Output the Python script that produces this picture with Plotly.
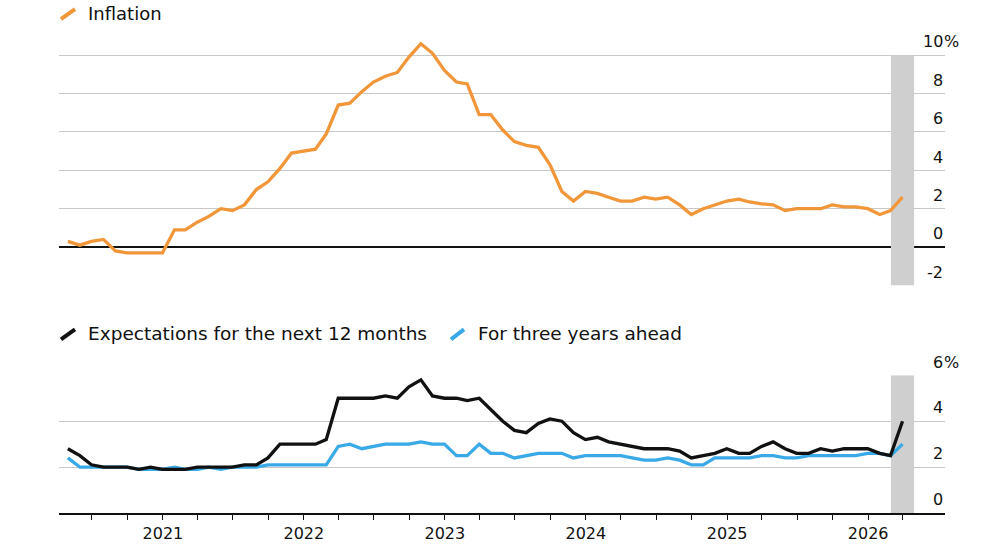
import pandas as pd
import plotly.graph_objects as go

# ---------------- data ----------------
months = pd.date_range("2020-04-30", periods=72, freq=pd.offsets.MonthEnd())

inflation = [
    0.3, 0.1, 0.3, 0.4, -0.2, -0.3, -0.3, -0.3, -0.3,
    0.9, 0.9, 1.3, 1.6, 2.0, 1.9, 2.2, 3.0, 3.4, 4.1, 4.9, 5.0,
    5.1, 5.9, 7.4, 7.5, 8.1, 8.6, 8.9, 9.1, 9.9, 10.6, 10.1, 9.2,
    8.6, 8.5, 6.9, 6.9, 6.1, 5.5, 5.3, 5.2, 4.3, 2.9, 2.4, 2.9,
    2.8, 2.6, 2.4, 2.4, 2.6, 2.5, 2.6, 2.2, 1.7, 2.0, 2.2, 2.4,
    2.5, 2.35, 2.25, 2.2, 1.9, 2.0, 2.0, 2.0, 2.2, 2.1, 2.1, 2.0,
    1.7, 1.9, 2.6,
]

expect_12m = [
    2.8, 2.5, 2.1, 2.0, 2.0, 2.0, 1.9, 2.0, 1.9,
    1.9, 1.9, 2.0, 2.0, 2.0, 2.0, 2.1, 2.1, 2.4, 3.0, 3.0, 3.0,
    3.0, 3.2, 5.0, 5.0, 5.0, 5.0, 5.1, 5.0, 5.5, 5.8, 5.1, 5.0,
    5.0, 4.9, 5.0, 4.5, 4.0, 3.6, 3.5, 3.9, 4.1, 4.0, 3.5, 3.2,
    3.3, 3.1, 3.0, 2.9, 2.8, 2.8, 2.8, 2.7, 2.4, 2.5, 2.6, 2.8,
    2.6, 2.6, 2.9, 3.1, 2.8, 2.6, 2.6, 2.8, 2.7, 2.8, 2.8, 2.8,
    2.6, 2.5, 4.0,
]

expect_3y = [
    2.4, 2.0, 2.0, 2.0, 2.0, 2.0, 1.9, 1.9, 1.9,
    2.0, 1.9, 1.9, 2.0, 1.9, 2.0, 2.0, 2.0, 2.1, 2.1, 2.1, 2.1,
    2.1, 2.1, 2.9, 3.0, 2.8, 2.9, 3.0, 3.0, 3.0, 3.1, 3.0, 3.0,
    2.5, 2.5, 3.0, 2.6, 2.6, 2.4, 2.5, 2.6, 2.6, 2.6, 2.4, 2.5,
    2.5, 2.5, 2.5, 2.4, 2.3, 2.3, 2.4, 2.3, 2.1, 2.1, 2.4, 2.4,
    2.4, 2.4, 2.5, 2.5, 2.4, 2.4, 2.5, 2.5, 2.5, 2.5, 2.5, 2.6,
    2.6, 2.5, 3.0,
]

top_ticks = [-2, 0, 2, 4, 6, 8, 10]
bottom_ticks = [0, 2, 4, 6]
x_tick_dates = pd.date_range("2020-07-01", "2026-04-01", freq="QS")
x_tick_text = [str(d.year) if d.month == 1 else "" for d in x_tick_dates]
band_start, band_end = "2026-03-01", "2026-04-30"
x_range = ["2020-04-07", "2026-07-19"]

# ---------------- style ----------------
ORANGE = "#F2963A"
BLUE = "#3AA9E8"
BLACK = "#111111"
GRID = "#c8c8c8"
BAND = "#cfcfcf"
FONT = "DejaVu Sans"
LW = 3.3

W = 1000
K = 555 / 545                 # vertical compensation for the viewport
H = round(545 * K)


def Y(p):
    return p * K


PLOT_L, PLOT_R = 59, 945
PLOT_T, PLOT_B = Y(35), Y(513)
L, R = PLOT_L, W - PLOT_R
T, B = PLOT_T, H - PLOT_B
PW, PH = PLOT_R - PLOT_L, PLOT_B - PLOT_T


def px(xp):
    return (xp - PLOT_L) / PW


def py(yp):
    return (PLOT_B - Y(yp)) / PH


fig = go.Figure()
fig.add_trace(go.Scatter(x=months, y=inflation, mode="lines",
                         line=dict(color=ORANGE, width=LW), xaxis="x", yaxis="y",
                         name="Inflation", cliponaxis=False))
fig.add_trace(go.Scatter(x=months, y=expect_3y, mode="lines",
                         line=dict(color=BLUE, width=LW), xaxis="x2", yaxis="y2",
                         name="For three years ahead"))
fig.add_trace(go.Scatter(x=months, y=expect_12m, mode="lines",
                         line=dict(color=BLACK, width=LW), xaxis="x2", yaxis="y2",
                         name="Expectations for the next 12 months"))

shapes = [
    dict(type="rect", xref="x", yref="y", x0=band_start, x1=band_end, y0=-2, y1=10,
         fillcolor=BAND, line=dict(width=0), layer="between"),
    dict(type="rect", xref="x2", yref="y2", x0=band_start, x1=band_end, y0=0, y1=6,
         fillcolor=BAND, line=dict(width=0), layer="between"),
    # legend icons
    dict(type="line", xref="paper", yref="paper", x0=px(61), y0=py(18), x1=px(75), y1=py(8),
         line=dict(color=ORANGE, width=4)),
    dict(type="line", xref="paper", yref="paper", x0=px(61), y0=py(339), x1=px(75), y1=py(329),
         line=dict(color=BLACK, width=4)),
    dict(type="line", xref="paper", yref="paper", x0=px(451), y0=py(339), x1=px(464), y1=py(329),
         line=dict(color=BLUE, width=4)),
]

annotations = [
    dict(text="Inflation", xref="paper", yref="paper", x=px(86), y=py(12),
         xanchor="left", yanchor="middle", showarrow=False,
         font=dict(family=FONT, size=18, color=BLACK)),
    dict(text="Expectations for the next 12 months", xref="paper", yref="paper",
         x=px(86), y=py(333), xanchor="left", yanchor="middle", showarrow=False,
         font=dict(family=FONT, size=18.5, color=BLACK)),
    dict(text="For three years ahead", xref="paper", yref="paper",
         x=px(476), y=py(333), xanchor="left", yanchor="middle", showarrow=False,
         font=dict(family=FONT, size=18.5, color=BLACK)),
]

lab_shift = Y(13)
for v in top_ticks:
    annotations.append(dict(text=str(v), xref="paper", yref="y", x=px(945), y=v,
                            xanchor="right", yanchor="middle", yshift=lab_shift, showarrow=False,
                            font=dict(family=FONT, size=16, color=BLACK)))
annotations.append(dict(text="%", xref="paper", yref="y", x=px(942), y=top_ticks[-1],
                        xanchor="left", yanchor="middle", yshift=lab_shift, showarrow=False,
                        font=dict(family=FONT, size=16, color=BLACK)))
for v in bottom_ticks:
    annotations.append(dict(text=str(v), xref="paper", yref="y2", x=px(945), y=v,
                            xanchor="right", yanchor="middle", yshift=lab_shift, showarrow=False,
                            font=dict(family=FONT, size=16, color=BLACK)))
annotations.append(dict(text="%", xref="paper", yref="y2", x=px(942), y=bottom_ticks[-1],
                        xanchor="left", yanchor="middle", yshift=lab_shift, showarrow=False,
                        font=dict(family=FONT, size=16, color=BLACK)))

fig.update_layout(
    width=W, height=H,
    margin=dict(l=L, r=R, t=T, b=B, pad=0),
    paper_bgcolor="white", plot_bgcolor="white",
    showlegend=False,
    font=dict(family=FONT, size=16, color=BLACK),
    shapes=shapes, annotations=annotations,
    xaxis=dict(domain=[0, 1], range=x_range, type="date", anchor="y",
               showgrid=False, showline=False, showticklabels=False, ticks="",
               zeroline=False, matches="x2"),
    yaxis=dict(domain=[py(285), 1], range=[-2, 11], tickvals=[2, 4, 6, 8, 10],
               showgrid=True, gridcolor=GRID, gridwidth=1.3, showticklabels=False,
               zeroline=True, zerolinecolor=BLACK, zerolinewidth=1.5, showline=False),
    xaxis2=dict(domain=[0, 1], range=x_range, type="date", anchor="y2",
                showgrid=False, showline=True, linecolor=BLACK, linewidth=1.5,
                ticks="outside", ticklen=5, tickwidth=1.3, tickcolor=BLACK,
                tickvals=list(x_tick_dates), ticktext=x_tick_text,
                tickfont=dict(family=FONT, size=16, color=BLACK), zeroline=False),
    yaxis2=dict(domain=[0, py(375)], range=[0, 6], tickvals=[2, 4, 6],
                showgrid=True, gridcolor=GRID, gridwidth=1.3, showticklabels=False,
                zeroline=False, showline=False),
)

fig.write_html(
    "out.html",
    config={"displayModeBar": False},
    post_script="document.body.style.margin='0px';document.body.style.overflow='hidden';",
)
